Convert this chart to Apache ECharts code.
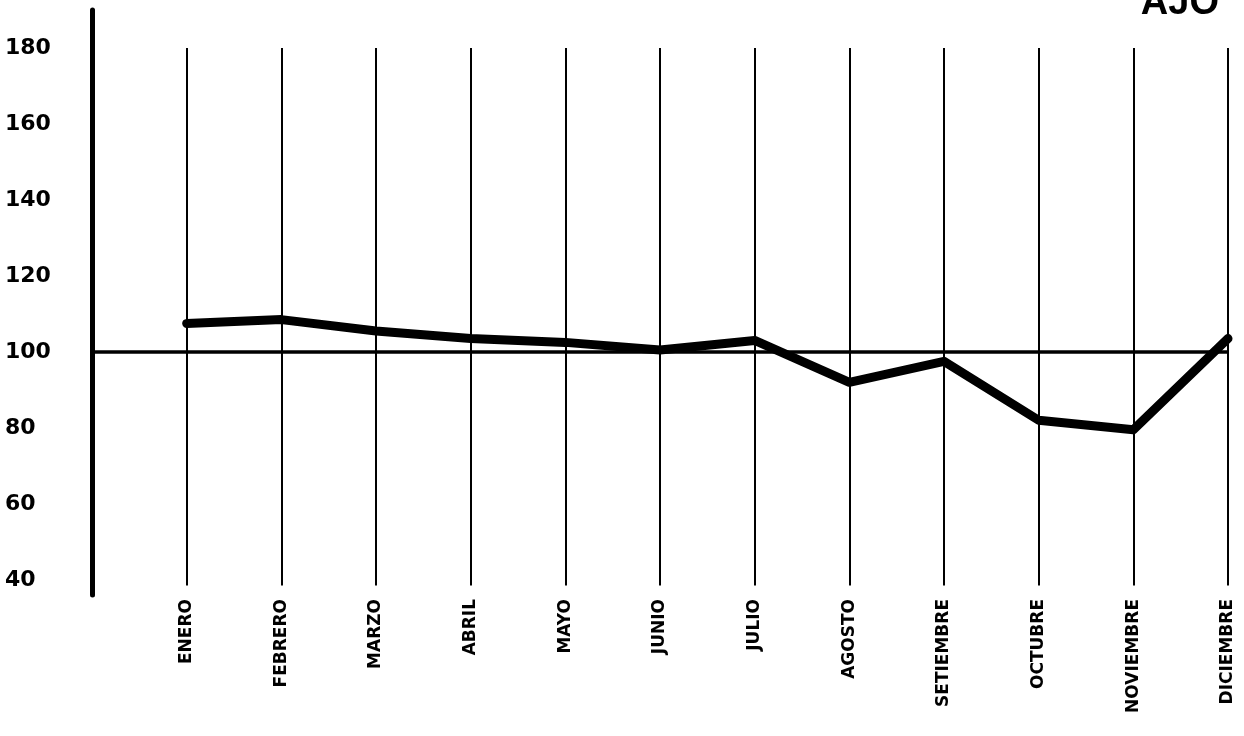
<!DOCTYPE html>
<html><head><meta charset="utf-8">
<script src="https://cdn.jsdelivr.net/npm/echarts@6/dist/echarts.min.js"></script>
<style>html,body{margin:0;padding:0;background:#fff}#c{width:1244px;height:736px}</style>
</head><body><div id="c"></div>
<script>
const title = 'AJO';
const months = ['', 'ENERO','FEBRERO','MARZO','ABRIL','MAYO','JUNIO','JULIO','AGOSTO','SETIEMBRE','OCTUBRE','NOVIEMBRE','DICIEMBRE'];
const values = [null, 107.5, 108.5, 105.5, 103.5, 102.5, 100.5, 103, 92, 97.5, 82, 79.5, 103.5];
const yTicks = [40, 60, 80, 100, 120, 140, 160, 180];
const reference = 100;

const chart = echarts.init(document.getElementById('c'));
const vLines = months.slice(1).map(m => [{xAxis: m, yAxis: 180}, {xAxis: m, yAxis: 38.5}]);
chart.setOption({
  animation: false,
  backgroundColor: '#fff',
  title: {text: title, right: 20, top: -20,
    textStyle: {fontFamily: 'Liberation Sans, Arial', fontWeight: 'bold', fontSize: 38, color: '#000'}},
  grid: {left: 92, right: 16, top: 10, bottom: 141, containLabel: false},
  xAxis: {type: 'category', data: months, boundaryGap: false,
    axisLine: {show: false}, axisTick: {show: false}, splitLine: {show: false},
    axisLabel: {rotate: 90, margin: 4, interval: 0, fontFamily: 'DejaVu Sans',
      fontWeight: 'bold', fontSize: 17, color: '#000'}},
  yAxis: {type: 'value', min: 36, max: 190, interval: 2,
    axisLine: {show: true, lineStyle: {color: '#000', width: 5}},
    axisTick: {show: false}, splitLine: {show: false},
    axisLabel: {align: 'left', margin: 87, fontFamily: 'DejaVu Sans', fontWeight: 'bold',
      fontSize: 22, color: '#000',
      formatter: v => yTicks.includes(v) ? String(v) : ''}},
  series: [{
    type: 'line', data: values, symbol: 'none', z: 5,
    lineStyle: {color: '#000', width: 9, join: 'round', cap: 'round'},
    markLine: {silent: true, symbol: 'none', label: {show: false},
      lineStyle: {color: '#000', type: 'solid', width: 2},
      data: vLines.concat([[{xAxis: '', yAxis: reference, lineStyle: {width: 3.5}}, {xAxis: 'DICIEMBRE', yAxis: reference}]])}
  }]
});
</script></body></html>
